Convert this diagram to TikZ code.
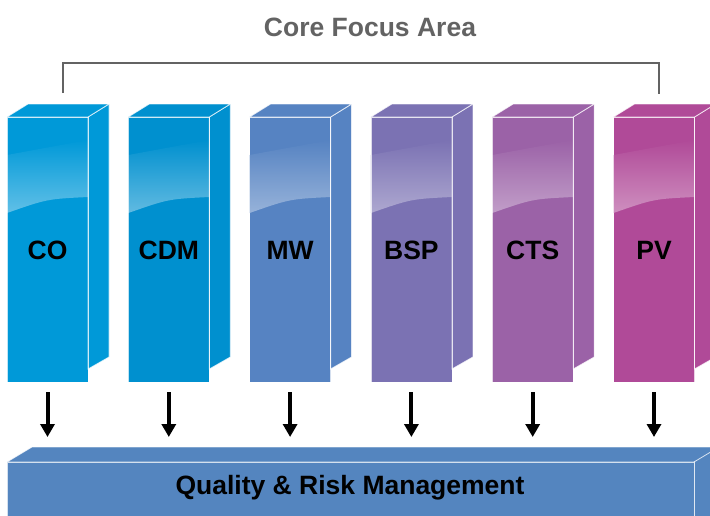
\documentclass[tikz,border=0pt]{standalone}
\usepackage{fontspec}
\setmainfont{Liberation Sans}
\usepackage{tikz}
\usetikzlibrary{arrows.meta}

\definecolor{colCO}{HTML}{0099D8}
\definecolor{colCDM}{HTML}{0090CF}
\definecolor{colMW}{HTML}{5683C2}
\definecolor{colBSP}{HTML}{7B72B3}
\definecolor{colCTS}{HTML}{9B62A7}
\definecolor{colPV}{HTML}{B04A98}
\definecolor{colQRM}{HTML}{5485BF}
\definecolor{focusgray}{HTML}{636363}

\tikzset{
	edge/.style={draw=white, draw opacity=.75, line width=.8pt},
	boxtext/.style={font=\bfseries\fontsize{26.5}{26.5}\selectfont, text=black},
	flow/.style={-{Triangle[width=14pt,length=13pt]}, line width=4pt},
	bracket/.style={draw=focusgray, line width=2pt}
}

\begin{document}
\begin{tikzpicture}[x=1pt,y=-1pt]
		\useasboundingbox (0,0) rectangle (710,515);
		% title and bracket
		\node[font=\bfseries\fontsize{26.5}{26.5}\selectfont, text=focusgray] (focus) at (370,27) {Core Focus Area};
		\coordinate (brL) at (63,93);
		\coordinate (brR) at (659,94);
		\draw[bracket] (brL) -- ++(0,-30) -| (brR);
		% pillars
		\foreach \i/\lab in {0/CO,1/CDM,2/MW,3/BSP,4/CTS,5/PV} {
			\pgfmathsetmacro{\x}{7+121.3*\i}
			\fill[col\lab] (\x,117) rectangle ++(81,265);
			\shade[top color=col\lab, bottom color=col\lab!62!white] (\x,155) -- ({\x+81},140) -- ({\x+81},197) .. controls ({\x+40},199) .. (\x,213) -- cycle;
			\fill[col\lab, edge] ({\x+81},117) -- ++(21,-13) -- ++(0,253) -- ++(-21,12) -- cycle;
			\fill[col\lab, edge] (\x,117) -- ++(21,-13) -- ++(81,0) -- ++(-21,13) -- cycle;
			\draw[edge] (\x,117) rectangle ++(81,265);
			\node[boxtext] (\lab) at ({\x+40.5},250) {\lab};
			\coordinate (\lab-out) at ({\x+40.5},392);
			\coordinate (\lab-in) at ({\x+40.5},437);
			\draw[flow] (\lab-out) -- (\lab-in);
		}
		% base bar
		\begin{scope}
			\clip (0,0) rectangle (710,515);
			\fill[colQRM, edge] (7,462) -- (32,447) -- (730,447) -- (694,462) -- cycle;
			\fill[colQRM, edge] (694,462) -- (719,447) -- (719,530) -- (694,530) -- cycle;
			\fill[colQRM, edge] (7,462) rectangle (694,530);
		\end{scope}
		\node[boxtext] (qrm) at (350,488) {Quality \& Risk Management};
	\end{tikzpicture}
\end{document}
